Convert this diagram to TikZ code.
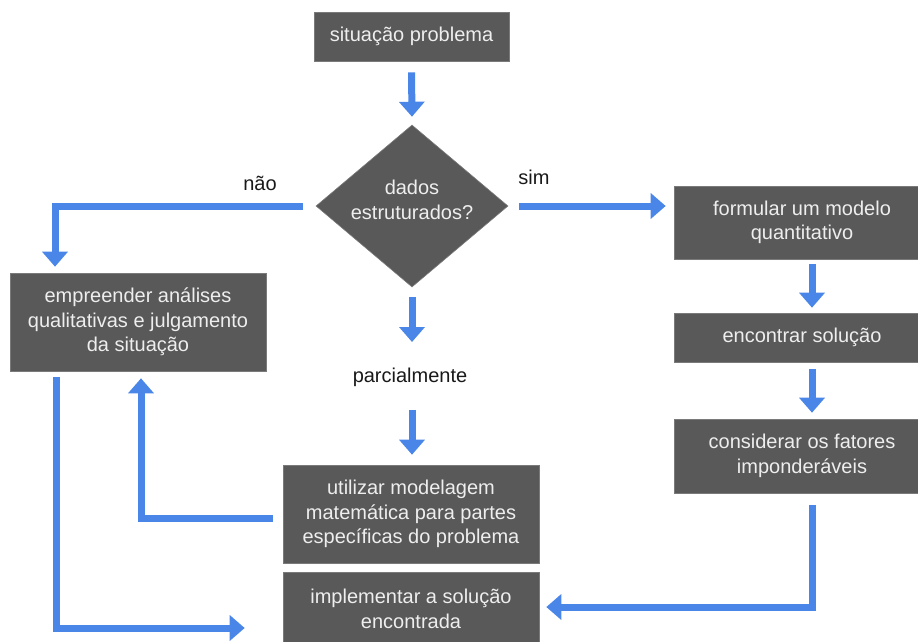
\documentclass[tikz,border=0pt]{standalone}
\usepackage{fontspec}
\setmainfont{Liberation Sans}
\usetikzlibrary{arrows.meta,shapes.geometric}
\definecolor{boxgray}{HTML}{595959}
\definecolor{boxtext}{HTML}{EEEEEE}
\definecolor{arrblue}{HTML}{4A86E8}
\begin{document}
\begin{tikzpicture}[x=1pt,y=-1pt,
  box/.style={rectangle,fill=boxgray,draw=boxgray!80!white,line width=0.6pt,text=boxtext,
    inner sep=0pt,align=center,font=\fontsize{20}{24.5}\selectfont},
  lbl/.style={inner sep=0pt,text=black!90,font=\fontsize{20}{24.5}\selectfont},
  arr/.style={draw=arrblue,line width=7pt,line join=miter,line cap=butt,
    -{Triangle[length=15pt,width=25pt]}}]
\useasboundingbox (0,0) rectangle (918,641);
\clip (0,0) rectangle (918,641);
% boxes
\node[box,minimum width=195pt,minimum height=49pt] (sp) at (411.5,36.5) {situação problema};
\node[diamond,fill=boxgray,draw=boxgray!80!white,line width=0.6pt,inner sep=0pt,
  minimum width=192pt,minimum height=162pt] (dd) at (412,206) {};
\node[box,fill=none,draw=none] (dtext) at (412,200) {dados\\estruturados?};
\node[box,minimum width=256pt,minimum height=98pt] (emp) at (138,322)
  {empreender análises\\qualitativas e julgamento\\da situação};
\node[box,minimum width=256pt,minimum height=73pt] (form) at (802,222.5)
  {formular um modelo\\quantitativo};
\node[box,minimum width=256pt,minimum height=49pt] (enc) at (802,337.5)
  {encontrar solução};
\node[box,minimum width=256pt,minimum height=74pt] (cons) at (802,456)
  {considerar os fatores\\imponderáveis};
\node[box,minimum width=256pt,minimum height=98pt] (util) at (411,514)
  {utilizar modelagem\\matemática para partes\\específicas do problema};
\node[box,minimum width=256pt,minimum height=74pt] (impl) at (411,609)
  {implementar a solução\\encontrada};
% labels
\node[lbl] (lnao) at (260,183) {não};
\node[lbl] (lsim) at (534,177) {sim};
\node[lbl] (parc) at (410,377) {parcialmente};
\coordinate (simend) at (dd.east -| form.west);
% connectors
\draw[arr] ([yshift=-11pt]sp.south) -- ([yshift=8pt]dd.north);
\draw[arr] ([xshift=-13pt]dd.west) -| ([xshift=-83pt,yshift=6pt]emp.north);
\draw[arr] ([xshift=11pt]dd.east) -- ([xshift=-8pt]simend);
\draw[arr] ([xshift=10pt,yshift=-5pt]form.south) -- ([xshift=10pt,yshift=5pt]enc.north);
\draw[arr] ([xshift=10pt,yshift=-7pt]enc.south) -- ([xshift=10pt,yshift=6pt]cons.north);
\draw[arr] ([xshift=10pt,yshift=-12pt]cons.south) |- ([xshift=7pt,yshift=2pt]impl.east);
\draw[arr] ([yshift=-10pt]dd.south) -- ([xshift=2pt,yshift=35pt]parc.center);
\draw[arr] ([xshift=2pt,yshift=-33pt]parc.center) -- ([xshift=1pt,yshift=10pt]util.north);
\draw[arr] ([xshift=-10pt,yshift=-4pt]util.west) -| ([xshift=3pt,yshift=-7pt]emp.south);
\draw[arr] ([xshift=-82pt,yshift=-6pt]emp.south) |- ([xshift=-38pt,yshift=-19pt]impl.west);
\end{tikzpicture}
\end{document}
